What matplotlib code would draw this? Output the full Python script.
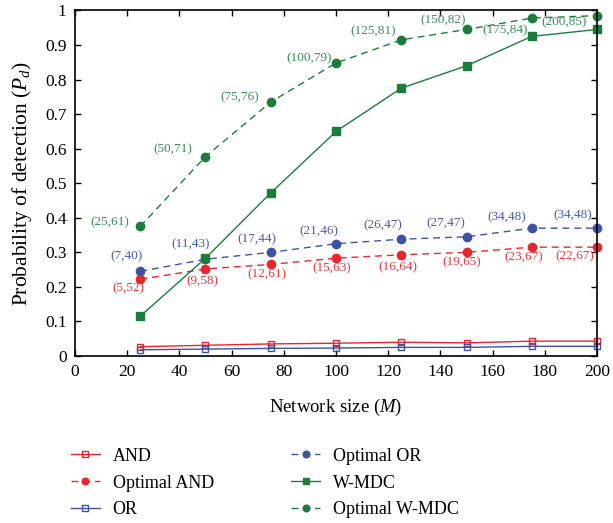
import matplotlib
matplotlib.use("Agg")
import matplotlib.pyplot as plt
import numpy as np

plt.rcParams['font.family'] = ['Liberation Serif', 'DejaVu Serif']
plt.rcParams['mathtext.fontset'] = 'custom'
plt.rcParams['mathtext.rm'] = 'Liberation Serif'
plt.rcParams['mathtext.it'] = 'Liberation Serif:italic'

# data
sizes = [25, 50, 75, 100, 125, 150, 175, 200]
and_pd = [0.027, 0.031, 0.035, 0.037, 0.040, 0.038, 0.043, 0.043]
opt_and_pd = [0.222, 0.252, 0.265, 0.283, 0.293, 0.300, 0.315, 0.315]
or_pd = [0.018, 0.020, 0.022, 0.023, 0.025, 0.025, 0.028, 0.028]
opt_or_pd = [0.245, 0.280, 0.300, 0.325, 0.338, 0.345, 0.370, 0.370]
wmdc_pd = [0.115, 0.283, 0.472, 0.650, 0.775, 0.840, 0.925, 0.945]
opt_wmdc_pd = [0.375, 0.577, 0.735, 0.848, 0.915, 0.945, 0.978, 0.985]

opt_and_labels = ["(5,52)", "(9,58)", "(12,61)", "(15,63)", "(16,64)", "(19,65)", "(23,67)", "(22,67)"]
opt_or_labels = ["(7,40)", "(11,43)", "(17,44)", "(21,46)", "(26,47)", "(27,47)", "(34,48)", "(34,48)"]
opt_wmdc_labels = ["(25,61)", "(50,71)", "(75,76)", "(100,79)", "(125,81)", "(150,82)", "(175,84)", "(200,85)"]

# label offsets in pixels (dx, dy)
and_off = [(-12, -9), (-3, -12), (-4, -10), (-4, -10), (-3, -13), (-5, -10), (-8, -10), (-22, -9)]
or_off = [(-14, 15), (-15, 15), (-14, 13), (-17, 12), (-18, 14), (-21, 14), (-25, 11), (-24, 13)]
wmdc_off = [(-30, 4), (-33, 7), (-31, 5), (-27, 5), (-28, 9), (-23, 9), (-27, -12), (-33, -7)]

red = '#e8262b'
blue = '#3c53a4'
green = '#1b7d3c'
red_t = '#e8393d'
blue_t = '#4a5ea9'
green_t = '#3a8f58'

fig = plt.figure(figsize=(6.13, 5.23), dpi=100)
ax = fig.add_axes([0.1223, 0.3193, 0.8517, 0.6607])

dash = (0, (5, 3.5))
ax.plot(sizes, and_pd, color=red, lw=1.0, marker='s', ms=5, mfc='none', mew=1.0, label='AND', clip_on=False)
ax.plot(sizes, opt_and_pd, color=red, lw=1.0, ls=dash, marker='o', ms=6, label='Optimal AND', clip_on=False)
ax.plot(sizes, or_pd, color=blue, lw=1.0, marker='s', ms=5, mfc='none', mew=1.0, label='OR', clip_on=False)
ax.plot(sizes, opt_or_pd, color=blue, lw=1.0, ls=dash, marker='o', ms=6, label='Optimal OR', clip_on=False)
ax.plot(sizes, wmdc_pd, color=green, lw=1.0, marker='s', ms=6, label='W-MDC', clip_on=False)
ax.plot(sizes, opt_wmdc_pd, color=green, lw=1.0, ls=dash, marker='o', ms=6, label='Optimal W-MDC', clip_on=False)

for x, y, t, o in zip(sizes, opt_and_pd, opt_and_labels, and_off):
    ax.annotate(t, (x, y), xytext=o, textcoords='offset pixels', ha='center', va='center',
                fontsize=9.5, color=red_t)
for x, y, t, o in zip(sizes, opt_or_pd, opt_or_labels, or_off):
    ax.annotate(t, (x, y), xytext=o, textcoords='offset pixels', ha='center', va='center',
                fontsize=9.5, color=blue_t)
for x, y, t, o in zip(sizes, opt_wmdc_pd, opt_wmdc_labels, wmdc_off):
    ax.annotate(t, (x, y), xytext=o, textcoords='offset pixels', ha='center', va='center',
                fontsize=9.5, color=green_t)

ax.set_xlim(0, 200)
ax.set_ylim(0, 1)
ax.set_xticks(np.arange(0, 201, 20))
ax.set_yticks(np.arange(0, 1.01, 0.1))
ax.set_yticklabels(['0', '0.1', '0.2', '0.3', '0.4', '0.5', '0.6', '0.7', '0.8', '0.9', '1'])
ax.tick_params(direction='in', top=True, right=True, length=4, labelsize=12.5, width=1, pad=6)
for s in ax.spines.values():
    s.set_linewidth(1.2)
ax.set_xlabel('Network size ($M$)', fontsize=13.5, labelpad=12)
ax.set_ylabel('Probability of detection ($P_d$)', fontsize=15.5, labelpad=8)

fig.legend(loc='upper left', bbox_to_anchor=(0.104, 0.158), ncol=2, frameon=False,
           fontsize=13, handlelength=1.6, columnspacing=4.3, labelspacing=0.55,
           handletextpad=0.7, borderaxespad=0, markerscale=0.8)

fig.savefig('out.png', dpi=100)
